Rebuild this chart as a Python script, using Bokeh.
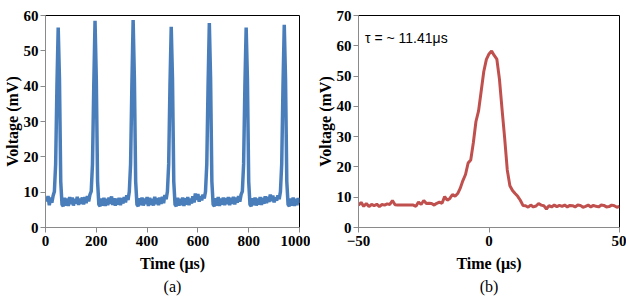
from bokeh.plotting import figure
from bokeh.layouts import row
from bokeh.models import Title, Label, FixedTicker, Range1d
from bokeh.embed import file_html
from bokeh.resources import INLINE

# ---------------- data: panel (a) ----------------
time_a = [
    0, 5, 10, 15, 20, 25, 30, 35, 40, 45,
    50, 55, 60, 65, 70, 75, 80, 85, 90, 95,
    100, 105, 110, 115, 120, 125, 130, 135, 140, 145,
    150, 155, 160, 165, 170, 175, 180, 185, 190, 195,
    200, 205, 210, 215, 220, 225, 230, 235, 240, 245,
    250, 255, 260, 265, 270, 275, 280, 285, 290, 295,
    300, 305, 310, 315, 320, 325, 330, 335, 340, 345,
    350, 355, 360, 365, 370, 375, 380, 385, 390, 395,
    400, 405, 410, 415, 420, 425, 430, 435, 440, 445,
    450, 455, 460, 465, 470, 475, 480, 485, 490, 495,
    500, 505, 510, 515, 520, 525, 530, 535, 540, 545,
    550, 555, 560, 565, 570, 575, 580, 585, 590, 595,
    600, 605, 610, 615, 620, 625, 630, 635, 640, 645,
    650, 655, 660, 665, 670, 675, 680, 685, 690, 695,
    700, 705, 710, 715, 720, 725, 730, 735, 740, 745,
    750, 755, 760, 765, 770, 775, 780, 785, 790, 795,
    800, 805, 810, 815, 820, 825, 830, 835, 840, 845,
    850, 855, 860, 865, 870, 875, 880, 885, 890, 895,
    900, 905, 910, 915, 920, 925, 930, 935, 940, 945,
    950, 955, 960, 965, 970, 975, 980, 985, 990, 995,
    1000,
]
volt_a = [
    8.6, 7.4, 8.9, 6.3, 8.5, 7.0, 9.0, 10.2, 18, 40,
    56.6, 42, 13, 6.5, 6.0, 8.4, 6.2, 8.2, 6.1, 8.6,
    6.6, 8.5, 6.2, 8.1, 6.8, 8.7, 6.4, 8.2, 6.7, 8.5,
    6.5, 8.6, 6.9, 8.9, 7.4, 9.3, 10.2, 18, 40, 58.5,
    42, 13, 6.5, 6.0, 8.2, 6.2, 8.4, 6.1, 8.1, 6.3,
    8.5, 6.7, 8.8, 6.4, 8.3, 6.2, 8.2, 6.5, 8.4, 6.3,
    8.3, 6.8, 8.6, 7.1, 9.1, 7.8, 10.2, 18, 40, 58.7,
    42, 13, 6.5, 6.0, 8.3, 6.3, 8.5, 6.2, 8.2, 6.6,
    8.6, 6.1, 8.4, 6.4, 8.1, 6.2, 8.7, 6.6, 8.3, 6.3,
    8.5, 6.7, 8.7, 6.9, 9.2, 8.0, 10.2, 18, 40, 56.8,
    42, 13, 6.5, 6.0, 8.4, 6.2, 8.1, 6.3, 8.5, 6.1,
    8.3, 6.5, 8.6, 6.3, 8.2, 6.8, 8.8, 7.1, 9.6, 7.8,
    9.5, 7.3, 8.9, 7.7, 9.3, 8.2, 10.2, 18, 40, 57.9,
    42, 13, 6.5, 6.0, 8.3, 6.2, 8.6, 6.1, 8.2, 6.5,
    8.5, 6.3, 8.3, 6.6, 8.6, 6.3, 8.4, 6.7, 8.7, 6.5,
    8.5, 7.0, 8.9, 7.3, 9.3, 10.2, 18, 40, 56.6, 42,
    13, 6.5, 6.0, 8.3, 6.3, 8.5, 6.2, 8.2, 6.5, 8.6,
    6.4, 8.4, 6.7, 8.8, 6.9, 8.7, 7.2, 9.3, 7.5, 9.0,
    7.1, 8.5, 7.6, 9.1, 8.0, 10.2, 18, 40, 57.4, 42,
    13, 6.5, 6.0, 8.2, 6.2, 8.5, 6.1, 8.1, 6.3, 8.3,
    6.9,
]
x_ticks_a = [0, 200, 400, 600, 800, 1000]
y_ticks_a = [0, 10, 20, 30, 40, 50, 60]

# ---------------- data: panel (b) ----------------
time_b = [
    -50, -49, -48, -47, -46, -45, -44, -43, -42, -41,
    -40, -39, -38, -37, -36, -35, -34, -33, -32, -31,
    -30, -29, -28, -27, -26, -25, -24, -23, -22, -21,
    -20, -19, -18, -17, -16, -15, -14, -13, -12, -11,
    -10, -9, -8, -7, -6, -5, -4, -3, -2, -1,
    0, 1, 2, 3, 4, 5, 6, 7, 8, 9,
    10, 11, 12, 13, 14, 15, 16, 17, 18, 19,
    20, 21, 22, 23, 24, 25, 26, 27, 28, 29,
    30, 31, 32, 33, 34, 35, 36, 37, 38, 39,
    40, 41, 42, 43, 44, 45, 46, 47, 48, 49,
    50,
]
volt_b = [
    7.3, 8.3, 7.0, 7.9, 6.9, 7.6, 7.2, 7.7, 6.9, 7.6,
    7.4, 7.8, 7.6, 8.9, 7.5, 7.4, 7.4, 7.4, 7.4, 7.4,
    7.4, 7.4, 7.0, 8.4, 7.6, 8.9, 7.9, 8.0, 7.9, 7.4,
    8.0, 8.4, 8.0, 10.2, 9.0, 9.6, 10.9, 10.3, 11.2, 13.0,
    15.5, 17.5, 21.3, 22.3, 28, 35, 38.5, 45, 51.5, 55.5,
    57.3, 58.3, 56.8, 55.6, 49, 39, 29.5, 19, 13.8, 12.2,
    11.2, 10.3, 9.0, 7.3, 7.2, 6.7, 7.4, 6.8, 7.1, 7.9,
    7.4, 7.2, 6.1, 7.2, 6.8, 7.4, 6.9, 7.3, 7.0, 7.4,
    6.8, 7.3, 7.2, 6.8, 7.4, 7.3, 6.7, 7.0, 7.4, 6.8,
    7.3, 7.0, 6.8, 7.4, 7.3, 6.8, 6.9, 7.4, 7.2, 6.7,
    7.0,
]
x_ticks_b = [-50, 0, 50]
y_ticks_b = [0, 10, 20, 30, 40, 50, 60, 70]
annotation_b = "τ = ~ 11.41μs"

SERIF = "Liberation Serif"
AXIS_GRAY = "#8a8a8a"


def style(p, xt, yt, xlabel, ylabel, caption):
    p.xgrid.visible = False
    p.ygrid.visible = False
    p.outline_line_color = "black"
    p.outline_line_width = 1
    p.background_fill_color = "white"
    p.border_fill_color = "white"
    p.xaxis.ticker = FixedTicker(ticks=xt)
    p.yaxis.ticker = FixedTicker(ticks=yt)
    p.xaxis.axis_label = xlabel
    p.yaxis.axis_label = ylabel
    for ax in (p.xaxis[0], p.yaxis[0]):
        ax.axis_line_color = AXIS_GRAY
        ax.axis_line_width = 1
        ax.major_tick_line_color = AXIS_GRAY
        ax.major_tick_out = 5
        ax.major_tick_in = 0
        ax.minor_tick_line_color = None
        ax.major_label_text_font = SERIF
        ax.major_label_text_font_style = "bold"
        ax.major_label_text_font_size = "15px"
        ax.major_label_text_color = "black"
        ax.axis_label_text_font = SERIF
        ax.axis_label_text_font_style = "bold"
        ax.axis_label_text_font_size = "16px"
        ax.axis_label_text_color = "black"
    p.yaxis.major_label_standoff = 2
    p.yaxis.axis_label_standoff = 0
    p.xaxis.major_label_standoff = 3
    p.xaxis.axis_label_standoff = 6
    p.add_layout(Title(text=caption, align="center", text_font=SERIF,
                       text_font_size="16px", text_font_style="normal",
                       text_color="black", standoff=2), "below")


p1 = figure(width=310, height=303, output_backend="svg", toolbar_location=None,
            x_range=Range1d(0, 1000), y_range=Range1d(0, 60),
            min_border_left=45, min_border_right=11, min_border_top=15,
            min_border_bottom=74)
style(p1, x_ticks_a, y_ticks_a, "Time (μs)", "Voltage (mV)", "(a)")
p1.line(time_a, volt_a, line_color="#4a7ebb", line_width=3.5)

p2 = figure(width=316, height=303, output_backend="svg", toolbar_location=None,
            x_range=Range1d(-50, 50), y_range=Range1d(0, 70),
            min_border_left=48, min_border_right=7, min_border_top=6,
            min_border_bottom=76)
style(p2, x_ticks_b, y_ticks_b, "Time (μs)", "Voltage (mV)", "(b)")
p2.line(time_b, volt_b, line_color="#c0504d", line_width=3)
p2.add_layout(Label(x=-47.5, y=62.5, text=annotation_b, text_font="Liberation Sans",
                    text_font_size="14px", text_baseline="middle", text_color="black"))

layout = row(p1, p2)
open("out.html", "w").write(file_html(layout, INLINE))
